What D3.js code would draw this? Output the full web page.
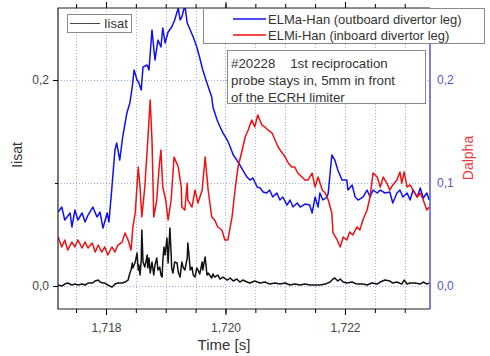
<!DOCTYPE html>
<html>
<head>
<meta charset="utf-8">
<script src="https://cdn.jsdelivr.net/npm/d3@7"></script>
<style>
  body { margin: 0; background: #fff; }
  svg { display: block; font-family: "Liberation Sans", Arial, sans-serif; }
</style>
</head>
<body>
<div id="chart"></div>
<script>
// ELMa-Han (outboard divertor leg), blue
const timeElma = [1.71720,1.71726,1.71731,1.71740,1.71743,1.71748,1.71753,1.71760,1.71765,1.71770,1.71778,1.71785,1.71790,1.71795,1.71802,1.71805,
  1.71810,1.71815,1.71818,1.71823,1.71828,1.71835,1.71840,1.71844,1.71847,1.71852,1.71855,1.71859,1.71862,1.71869,1.71872,1.71877,1.71882,1.71887,1.71892,1.71895,1.71899,1.71904,
  1.71910,1.71915,1.71921,1.71924,1.71927,1.71932,1.71936,1.71941,1.71946,1.71952,1.71957,1.71962,1.71969,1.71977,1.71979,1.71986,1.71991,1.71996,
  1.72003,1.72008,1.72013,1.72019,1.72024,1.72029,1.72036,1.72041,1.72046,1.72053,1.72058,1.72063,1.72069,1.72074,1.72079,1.72086,1.72091,1.72096,
  1.72103,1.72108,1.72113,1.72120,1.72125,1.72133,1.72141,1.72145,1.72150,1.72155,1.72158,1.72163,1.72170,1.72172,1.72178,1.72183,1.72188,1.72195,
  1.72203,1.72205,1.72212,1.72217,1.72222,1.72230,1.72237,1.72242,1.72247,1.72254,1.72259,1.72267,1.72275,1.72280,1.72287,1.72292,1.72297,
  1.72304,1.72309,1.72314,1.72321,1.72326,1.72331,1.72337,1.72341];
const elmaHan = [.0718,.0767,.0641,.0709,.0573,.0738,.0641,.0709,.0621,.0689,.0767,.0670,.0718,.0563,.0709,.0621,
  .0961,.1320,.1388,.1223,.1447,.1680,.1777,.1932,.2097,.2000,.1971,.1903,.2126,.2146,.2097,.2485,.2194,.2388,.2320,.2505,.2359,.2466,
  .2515,.2583,.2699,.2583,.2612,.2728,.2553,.2485,.2417,.2320,.2214,.2097,.1971,.1835,.1738,.1612,.1544,.1485,
  .1417,.1350,.1272,.1223,.1175,.1126,.1058,.1029,.1049,.0961,.0951,.0913,.0903,.0932,.0864,.0903,.0835,.0864,
  .0786,.0835,.0767,.0806,.0767,.0796,.0786,.0709,.0864,.0767,.0903,.0835,.0864,.0903,.1272,.1223,.1126,.1029,
  .1029,.0932,.0981,.0864,.0835,.0864,.0932,.0864,.0932,.0903,.0932,.0903,.0913,.0806,.0903,.0932,.0864,
  .0903,.0835,.0932,.0864,.0951,.0854,.0903,.0835];

// ELMi-Han (inboard divertor leg), red
const timeElmi = [1.71720,1.71726,1.71731,1.71736,1.71743,1.71748,1.71753,1.71760,1.71765,1.71770,1.71777,1.71782,1.71787,1.71793,1.71798,1.71803,
  1.71810,1.71815,1.71820,1.71827,1.71832,1.71837,1.71842,1.71845,1.71849,1.71854,1.71857,1.71860,1.71865,1.71870,1.71874,1.71877,1.71880,1.71885,
  1.71889,1.71892,1.71895,1.71900,1.71904,1.71909,1.71914,1.71921,1.71926,1.71927,1.71932,1.71936,1.71937,1.71944,1.71949,1.71954,1.71961,1.71966,
  1.71971,1.71977,1.71982,1.71987,1.71994,1.71999,1.72004,1.72011,1.72016,1.72021,1.72028,1.72033,1.72038,1.72044,1.72049,1.72054,1.72061,1.72066,
  1.72071,1.72078,1.72083,1.72088,1.72095,1.72100,1.72105,1.72111,1.72116,1.72121,1.72128,1.72133,1.72138,1.72145,1.72150,1.72155,1.72162,1.72167,
  1.72172,1.72178,1.72180,1.72187,1.72192,1.72197,1.72203,1.72208,1.72213,1.72220,1.72225,1.72230,1.72237,1.72242,1.72247,1.72254,1.72259,1.72264,
  1.72270,1.72275,1.72280,1.72287,1.72292,1.72295,1.72299,1.72304,1.72309,1.72314,1.72321,1.72326,1.72331,1.72337,1.72341];
const elmiHan = [.0476,.0379,.0447,.0350,.0427,.0379,.0447,.0369,.0427,.0369,.0417,.0330,.0398,.0330,.0379,.0301,
  .0379,.0330,.0398,.0427,.0515,.0447,.0350,.0573,.0709,.1155,.0961,.0670,.0961,.1417,.1806,.1417,.0670,.0835,
  .1155,.1320,.0961,.0835,.0641,.0835,.1252,.1155,.0961,.0767,.0738,.1000,.0835,.0767,.0932,.0806,.0932,.1252,
  .0932,.0670,.0641,.0573,.0544,.0447,.0447,.0670,.0932,.1155,.1320,.1447,.1515,.1612,.1544,.1660,.1563,.1544,
  .1515,.1485,.1417,.1350,.1291,.1252,.1194,.1155,.1155,.1097,.1058,.1029,.1029,.1097,.0961,.1058,.0932,.0903,
  .0835,.0709,.0515,.0447,.0379,.0476,.0447,.0524,.0495,.0573,.0544,.0641,.0738,.0864,.1097,.1058,.0961,.1058,
  .1000,.0932,.0981,.1029,.1107,.1000,.1107,.0961,.0981,.0932,.0864,.0903,.0835,.0738,.0767];

// Iisat, black
const timeIisat = [1.71720,1.71726,1.71731,1.71736,1.71743,1.71748,1.71753,1.71760,1.71765,1.71770,1.71777,1.71782,1.71787,1.71790,1.71795,1.71798,
  1.71803,1.71810,1.71812,1.71815,1.71820,1.71827,1.71832,1.71837,1.71840,1.71842,1.71844,1.71845,1.71849,1.71852,1.71854,1.71855,1.71857,1.71859,
  1.71860,1.71862,1.71865,1.71869,1.71870,1.71872,1.71874,1.71877,1.71880,1.71882,1.71885,1.71887,1.71890,1.71892,1.71894,1.71895,1.71897,1.71899,
  1.71902,1.71904,1.71907,1.71909,1.71910,1.71912,1.71915,1.71919,1.71921,1.71924,1.71927,1.71929,1.71932,1.71936,1.71937,1.71939,1.71941,1.71944,
  1.71946,1.71949,1.71952,1.71954,1.71957,1.71961,1.71962,1.71966,1.71969,1.71971,1.71977,1.71979,1.71982,1.71987,1.71991,1.71996,1.72003,1.72008,
  1.72013,1.72019,1.72024,1.72029,1.72036,1.72041,1.72049,1.72058,1.72066,1.72074,1.72083,1.72091,1.72100,1.72108,1.72116,1.72125,1.72133,1.72141,
  1.72150,1.72158,1.72167,1.72175,1.72180,1.72183,1.72188,1.72192,1.72197,1.72203,1.72212,1.72220,1.72230,1.72237,1.72245,1.72254,1.72259,1.72267,
  1.72275,1.72280,1.72287,1.72295,1.72299,1.72304,1.72309,1.72317,1.72326,1.72331,1.72337,1.72341];
const iisat = [.0010,.0000,.0019,.0029,.0010,.0019,.0010,.0019,.0010,.0029,.0029,.0049,.0058,.0039,.0029,.0029,
  .0010,-.0010,.0000,.0019,.0029,.0029,.0039,.0058,.0126,.0155,.0223,.0175,.0233,.0320,.0155,.0204,.0107,.0252,
  .0544,.0233,.0184,.0301,.0175,.0272,.0126,.0233,.0107,.0204,.0272,.0155,.0184,.0107,.0087,.0233,.0379,.0301,
  .0466,.0223,.0563,.0320,.0175,.0126,.0233,.0223,.0136,.0087,.0233,.0184,.0155,.0272,.0417,.0301,.0155,.0184,
  .0107,.0087,.0175,.0155,.0117,.0233,.0155,.0282,.0107,.0126,.0078,.0117,.0087,.0107,.0068,.0087,.0058,.0078,
  .0049,.0068,.0039,.0058,.0039,.0029,.0049,.0029,.0039,.0019,.0029,.0019,.0029,.0010,.0019,.0010,.0019,.0010,
  .0010,.0010,.0019,.0039,.0068,.0078,.0049,.0068,.0039,.0029,.0039,.0019,.0019,.0010,.0029,.0019,.0039,.0058,
  .0049,.0029,.0039,.0019,.0058,.0019,.0029,.0029,.0019,.0039,.0019,.0029];

const xMajorTicks = [1.718, 1.720, 1.722];
const xMinorTicks = [1.7175, 1.7180, 1.7185, 1.7190, 1.7195, 1.7200, 1.7205, 1.7210, 1.7215, 1.7220, 1.7225, 1.7230];
const yLeftTicks = [0, 0.2];
const yGridTicks = [0, 0.1, 0.2];
const yRightTicks = [0, 0.1, 0.2];

const width = 490;
const height = 356;
const marginTop = 8;
const marginRight = 60;
const marginBottom = 47;
const marginLeft = 58;

const x = d3.scaleLinear()
  .domain([1.717197, 1.723423])
  .range([marginLeft, width - marginRight]);

const y = d3.scaleLinear()
  .domain([-0.0223, 0.2699])
  .range([height - marginBottom, marginTop]);

// Dalpha axis, same scaling as the left one
const yRight = y.copy();

const comma = fmt => d => fmt(d).replace(".", ",");

const svg = d3.create("svg")
  .attr("width", width)
  .attr("height", height)
  .attr("viewBox", [0, 0, width, height]);

svg.append("rect").attr("width", width).attr("height", height).attr("fill", "#fff");

// dotted grid
const grid = svg.append("g")
  .attr("stroke", "#9fb0e4")
  .attr("stroke-width", 1)
  .attr("stroke-dasharray", "1,2");
grid.selectAll("line.v")
  .data(xMinorTicks)
  .join("line")
  .attr("x1", d => Math.round(x(d)) + 0.5).attr("x2", d => Math.round(x(d)) + 0.5)
  .attr("y1", marginTop).attr("y2", height - marginBottom);
grid.selectAll("line.h")
  .data(yGridTicks)
  .join("line")
  .attr("y1", d => Math.round(y(d)) + 0.5).attr("y2", d => Math.round(y(d)) + 0.5)
  .attr("x1", marginLeft).attr("x2", width - marginRight);

svg.append("clipPath").attr("id", "plot")
  .append("rect")
  .attr("x", marginLeft).attr("y", marginTop)
  .attr("width", width - marginLeft - marginRight)
  .attr("height", height - marginTop - marginBottom);

const line = d3.line()
  .x(d => x(d[0]))
  .y(d => d[2] ? yRight(d[1]) : y(d[1]));

const series = [
  { t: timeElma, v: elmaHan, color: "#1010f0", right: true },
  { t: timeElmi, v: elmiHan, color: "#f01010", right: true },
  { t: timeIisat, v: iisat, color: "#111", right: false }
];

svg.append("g")
  .attr("clip-path", "url(#plot)")
  .attr("fill", "none")
  .attr("stroke-width", 1.5)
  .attr("stroke-linejoin", "round")
  .selectAll("path")
  .data(series)
  .join("path")
  .attr("stroke", d => d.color)
  .attr("d", d => line(d.t.map((t, i) => [t, d.v[i], d.right])));

// axes
const axisText = g => g.selectAll("text")
  .attr("fill", "#444")
  .attr("font-size", 12)
  .attr("font-family", "Liberation Sans, Arial, sans-serif");

svg.append("g")
  .attr("transform", `translate(0,${height - marginBottom})`)
  .call(d3.axisBottom(x).tickValues(xMinorTicks).tickSize(4).tickFormat(""))
  .call(g => g.select(".domain").remove());
svg.append("g")
  .attr("transform", `translate(0,${height - marginBottom})`)
  .call(d3.axisBottom(x).tickValues(xMajorTicks).tickSize(6).tickPadding(8).tickFormat(comma(d3.format(".3f"))))
  .call(g => g.select(".domain").remove())
  .call(axisText);

svg.append("g")
  .attr("transform", `translate(0,${marginTop})`)
  .call(d3.axisTop(x).tickValues(xMinorTicks).tickSize(4).tickFormat(""))
  .call(g => g.select(".domain").remove());
svg.append("g")
  .attr("transform", `translate(0,${marginTop})`)
  .call(d3.axisTop(x).tickValues(xMajorTicks).tickSize(6).tickFormat(""))
  .call(g => g.select(".domain").remove());

svg.append("g")
  .attr("transform", `translate(${marginLeft},0)`)
  .call(d3.axisLeft(y).tickValues(yLeftTicks).tickSize(5).tickPadding(4).tickFormat(comma(d3.format(".1f"))))
  .call(g => g.select(".domain").remove())
  .call(axisText);
svg.append("g")
  .attr("transform", `translate(${marginLeft},0)`)
  .call(d3.axisLeft(y).tickValues([0.1]).tickSize(3).tickFormat(""))
  .call(g => g.select(".domain").remove());

svg.append("g")
  .attr("transform", `translate(${width - marginRight},0)`)
  .call(d3.axisRight(yRight).tickValues(yRightTicks).tickSize(0).tickPadding(7).tickFormat(comma(d3.format(".1f"))))
  .call(g => g.select(".domain").remove())
  .call(axisText)
  .call(g => g.selectAll("text").attr("fill", "#5656c8"));

// frame
const frame = svg.append("g").attr("stroke-width", 1.2).attr("fill", "none");
frame.append("path")
  .attr("stroke", "#222")
  .attr("d", `M${width - marginRight},${marginTop}H${marginLeft}V${height - marginBottom}H${width - marginRight}`);
frame.append("line")
  .attr("stroke", "#5050d8")
  .attr("stroke-width", 1.5)
  .attr("x1", width - marginRight).attr("x2", width - marginRight)
  .attr("y1", marginTop).attr("y2", height - marginBottom);

// axis titles
svg.append("text")
  .attr("transform", `translate(22,155) rotate(-90)`)
  .attr("text-anchor", "middle")
  .attr("font-size", 14)
  .attr("fill", "#333")
  .text("Iisat");
svg.append("text")
  .attr("transform", `translate(473,158) rotate(-90)`)
  .attr("text-anchor", "middle")
  .attr("font-size", 14)
  .attr("fill", "#e83a3a")
  .text("Dalpha");
svg.append("text")
  .attr("x", 224).attr("y", 350)
  .attr("text-anchor", "middle")
  .attr("font-size", 15)
  .attr("fill", "#333")
  .text("Time [s]");

// legends
const box = (x0, y0, w, h) => svg.append("rect")
  .attr("x", x0 + 0.5).attr("y", y0 + 0.5).attr("width", w).attr("height", h)
  .attr("fill", "#fff").attr("stroke", "#8a8a8a").attr("stroke-width", 1);

box(67, 14, 64, 18);
svg.append("line").attr("x1", 70).attr("x2", 100).attr("y1", 23.5).attr("y2", 23.5)
  .attr("stroke", "#444").attr("stroke-width", 1);
svg.append("text").attr("x", 104).attr("y", 28).attr("font-size", 13).attr("fill", "#333").text("Iisat");

box(203, 8, 281, 35);
const legendItems = [
  { label: "ELMa-Han (outboard divertor leg)", color: "#1010f0", y: 19 },
  { label: "ELMi-Han (inboard divertor leg)", color: "#f01010", y: 35 }
];
legendItems.forEach(d => {
  svg.append("line").attr("x1", 233).attr("x2", 266).attr("y1", d.y).attr("y2", d.y)
    .attr("stroke", d.color).attr("stroke-width", 1.5);
  svg.append("text").attr("x", 268).attr("y", d.y + 4.5).attr("font-size", 13).attr("fill", "#333").text(d.label);
});

box(227, 50, 198, 53);
const note = ["#20228    1st reciprocation", "probe stays in, 5mm in front", "of the ECRH limiter"];
svg.append("g").selectAll("text")
  .data(note)
  .join("text")
  .attr("x", 231)
  .attr("y", (d, i) => 68 + i * 17)
  .attr("font-size", 13.3)
  .attr("fill", "#333")
  .style("white-space", "pre")
  .text(d => d);

document.getElementById("chart").appendChild(svg.node());
</script>
</body>
</html>
